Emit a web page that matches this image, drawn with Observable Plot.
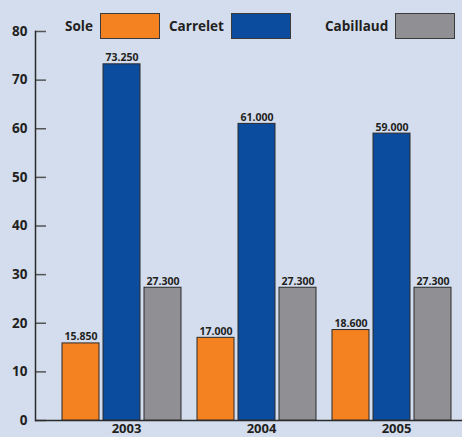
<!DOCTYPE html>
<html><head><meta charset="utf-8">
<script src="https://cdn.jsdelivr.net/npm/d3@7"></script>
<script src="https://cdn.jsdelivr.net/npm/@observablehq/plot@0.6"></script>
<style>
html,body{margin:0;padding:0;background:#d3ddee;}
#wrap{position:relative;width:462px;height:437px;overflow:hidden;font-family:"Open Sans",sans-serif;}
.item{position:absolute;top:13px;display:flex;align-items:center;font-weight:bold;font-size:13.5px;color:#231f20;z-index:3;}
.sw{width:58px;height:24px;border:1px solid #3a3a3a;margin-left:7px;}
svg{position:absolute;left:0;top:0;}
</style></head><body><div id="wrap"></div>
<script>
const years = ["2003", "2004", "2005"];
const species = ["Sole", "Carrelet", "Cabillaud"];
const sole = [15.85, 17.0, 18.6];
const carrelet = [73.25, 61.0, 59.0];
const cabillaud = [27.3, 27.3, 27.3];
const colors = ["#f58220", "#0b4c9f", "#909094"];
const yTicks = [0, 10, 20, 30, 40, 50, 60, 70, 80];
const legendLeft = [65, 169, 325];

const series = [sole, carrelet, cabillaud];
const data = years.flatMap((year, i) => species.map((sp, j) => ({year, species: sp, value: series[j][i]})));

const wrap = document.getElementById("wrap");

const common = {
  width: 462, height: 437,
  marginTop: 31, marginBottom: 17, marginLeft: 35, marginRight: 0,
  style: {background: "transparent", fontFamily: "'Open Sans', sans-serif", overflow: "visible"},
  y: {domain: [0, 80], axis: null}
};

// axes layer
const axes = Plot.plot({
  ...common,
  marks: [
    Plot.axisY(yTicks, {anchor: "left", tickSize: 0, tickPadding: 8, fontSize: 13.5, fontWeight: "bold", color: "#231f20", label: null}),
    Plot.axisY(yTicks, {anchor: "left", tickSize: -11, text: null, stroke: "#555", strokeWidth: 1.5, label: null}),
    Plot.frame({anchor: "left", stroke: "#2b2b2b", strokeWidth: 1.5}),
    Plot.ruleY([0], {stroke: "#2b2b2b", strokeWidth: 1.5})
  ]
});
wrap.appendChild(axes);

// bars layer
const chart = Plot.plot({
  ...common,
  fx: {domain: years, range: [60, 453], paddingInner: 0.0996, paddingOuter: 0, label: null},
  x: {domain: species, paddingInner: 0.095, paddingOuter: 0, axis: null},
  color: {domain: species, range: colors},
  marks: [
    Plot.barY(data, {fx: "year", x: "species", y: "value", fill: "species", stroke: "#2b2b2b", strokeWidth: 1}),
    Plot.text(data, {fx: "year", x: "species", y: "value", text: d => d3.format(".3f")(d.value),
      lineAnchor: "bottom", dy: -3, fontSize: 10.5, fontWeight: "bold", fill: "#231f20"}),
    Plot.axisFx({anchor: "bottom", tickSize: 0, tickPadding: 3, dx: 4, fontSize: 13, fontWeight: "bold", color: "#231f20", label: null})
  ]
});
wrap.appendChild(chart);

species.forEach((sp, i) => {
  const it = document.createElement("div");
  it.className = "item";
  it.style.left = legendLeft[i] + "px";
  it.innerHTML = `<span>${sp}</span><span class="sw" style="background:${colors[i]}"></span>`;
  wrap.appendChild(it);
});
</script>
</body></html>
